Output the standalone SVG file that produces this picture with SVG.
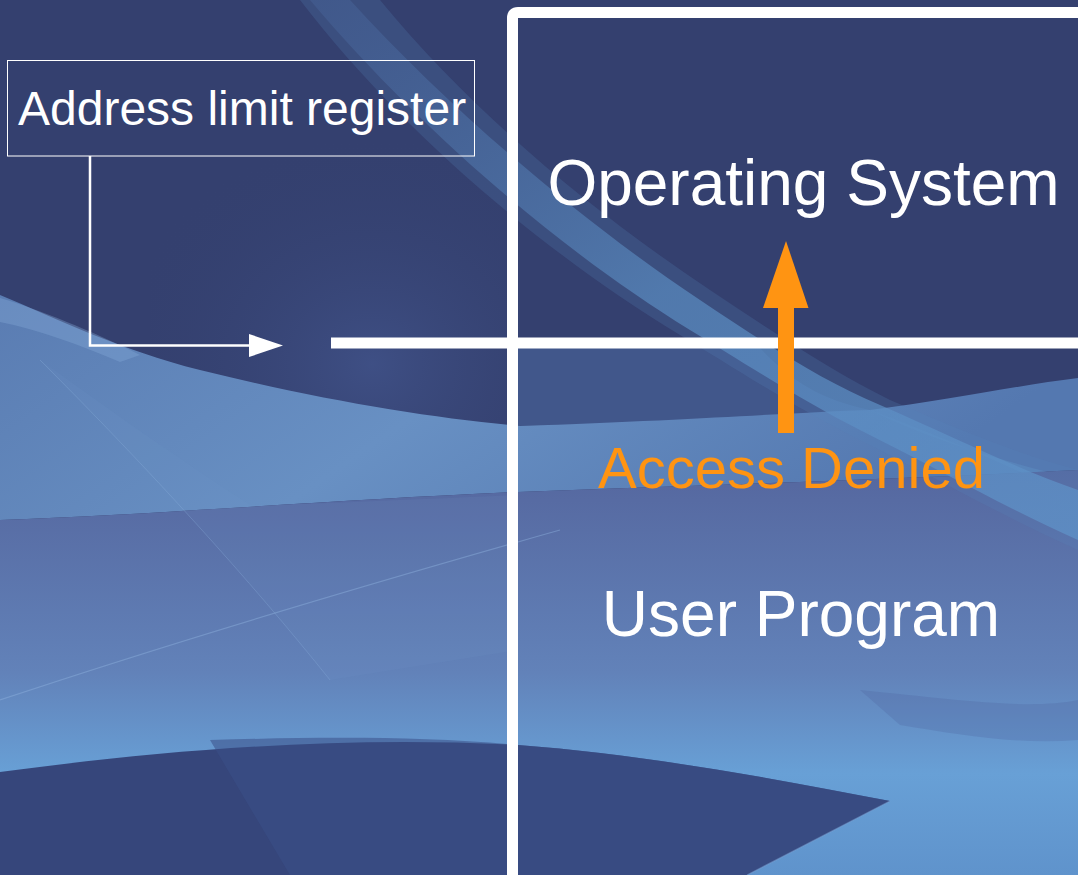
<svg xmlns="http://www.w3.org/2000/svg" width="1078" height="875" viewBox="0 0 1078 875">
<defs>
<style>
.lbl{font-family:"Liberation Sans",Arial,sans-serif;fill:#ffffff}
.big{font-size:64px;text-anchor:middle}
.warn{font-family:"Liberation Sans",Arial,sans-serif;fill:#ff9412;font-size:58px;text-anchor:middle}
.wline{stroke:#ffffff;fill:none}
</style>
<linearGradient id="gLow" x1="0" y1="0" x2="0" y2="1">
<stop offset="0" stop-color="#55679f"/>
<stop offset="0.5" stop-color="#6282b9"/>
<stop offset="0.75" stop-color="#68a0d6"/>
<stop offset="1" stop-color="#5f93cc"/>
</linearGradient>
<linearGradient id="gBand" x1="0" y1="0" x2="1" y2="0.3">
<stop offset="0" stop-color="#5a7cb2"/>
<stop offset="0.5" stop-color="#6890c3"/>
<stop offset="1" stop-color="#5478b0"/>
</linearGradient>
<linearGradient id="gStreak" x1="0" y1="0" x2="1" y2="1">
<stop offset="0" stop-color="#4a69a0" stop-opacity="0.35"/>
<stop offset="0.5" stop-color="#5a8bc0" stop-opacity="0.7"/>
<stop offset="1" stop-color="#5f92c8" stop-opacity="0.75"/>
</linearGradient>
<radialGradient id="gSoft" cx="0.6" cy="0.8" r="0.7">
<stop offset="0" stop-color="#41538a" stop-opacity="0.8"/>
<stop offset="1" stop-color="#34406f" stop-opacity="0"/>
</radialGradient>
</defs>

<g id="background">
<rect x="0" y="0" width="1078" height="875" fill="#34406f"/>
<rect x="150" y="100" width="370" height="330" fill="url(#gSoft)"/>
<path d="M518,348 L760,348 C790,380 820,400 870,410 C700,420 600,425 518,426 Z" fill="#41578b"/>
<path d="M0,295 C60,320 120,350 200,370 C320,400 430,418 520,426 C700,420 800,412 870,410 C950,400 1020,385 1078,378 L1078,470 C880,480 700,485 518,492 C330,500 150,515 0,520 Z" fill="url(#gBand)"/>
<path d="M870,410 C950,440 1020,470 1078,500 L1078,480 C1000,460 930,440 870,410 Z" fill="#5d8cc2" opacity="0.6"/>
<path d="M0,520 C150,515 330,500 518,492 C700,485 880,480 1078,470 L1078,875 L0,875 Z" fill="url(#gLow)"/>
<path d="M40,360 C150,470 250,580 330,680 L518,650 L518,495 C400,500 300,505 250,505 C180,460 110,410 40,360 Z" fill="#7a9fd0" opacity="0.1"/>
<path d="M300,0 L380,0 C470,110 590,210 710,290 C770,330 830,370 890,400 C960,430 1020,455 1078,470 L1078,550 C1010,520 940,480 860,440 C790,405 730,365 680,335 C540,250 400,130 300,0 Z" fill="#5585bb" opacity="0.22"/>
<path d="M310,0 L350,0 C450,110 580,220 700,300 C760,340 820,380 880,405 C960,440 1020,470 1078,490 L1078,540 C1010,510 940,470 860,430 C800,400 740,360 690,330 C560,250 420,130 310,0 Z" fill="url(#gStreak)"/>
<path d="M860,690 C960,700 1030,710 1078,700 L1078,740 C1020,745 960,735 900,725 Z" fill="#4a619b" opacity="0.25"/>
<path d="M0,772 C150,752 330,735 518,745 C650,755 780,780 890,801 L747,875 L0,875 Z" fill="#36467b"/>
<path d="M210,740 C320,737 420,736 518,745 C650,755 780,780 890,801 L747,875 L290,875 Z" fill="#3b5088" opacity="0.55"/>
<path d="M890,801 L747,875" stroke="#7fa7d8" stroke-width="1.2" opacity="0.5"/>
<path d="M0,700 C150,650 330,595 560,530" stroke="#8fb2de" stroke-width="1.2" fill="none" opacity="0.45"/>
<path d="M40,360 C150,470 250,580 330,680" stroke="#8fb2de" stroke-width="1" fill="none" opacity="0.3"/>
<path d="M0,298 C40,310 90,330 140,355 L120,362 C80,345 40,330 0,322 Z" fill="#86acda" opacity="0.35"/>
</g>

<g id="register">
<rect x="7.5" y="60.5" width="467" height="95.5" class="wline" stroke-width="1"/>
<text x="18" y="125" class="lbl" font-size="48">Address limit register</text>
</g>

<g id="memory">
<path d="M1090,12.5 L518,12.5 Q512.5,12.5 512.5,18 L512.5,890" class="wline" stroke-width="11"/>
<text x="803.5" y="205" class="lbl big">Operating System</text>
<text x="801" y="636" class="lbl big">User Program</text>
</g>

<g id="limit-line">
<line x1="331" y1="343" x2="1078" y2="343" stroke="#ffffff" stroke-width="11"/>
</g>

<g id="connectors">
<polyline points="90,156 90,345.5 250,345.5" class="wline" stroke-width="2.5"/>
<polygon points="249,334 283,345.5 249,357" fill="#ffffff"/>
<rect x="778" y="306" width="16" height="127" fill="#ff9412"/>
<polygon points="786,241 808.5,308 763,308" fill="#ff9412"/>
</g>

<g id="denied">
<text x="791.5" y="488" class="warn">Access Denied</text>
</g>
</svg>
